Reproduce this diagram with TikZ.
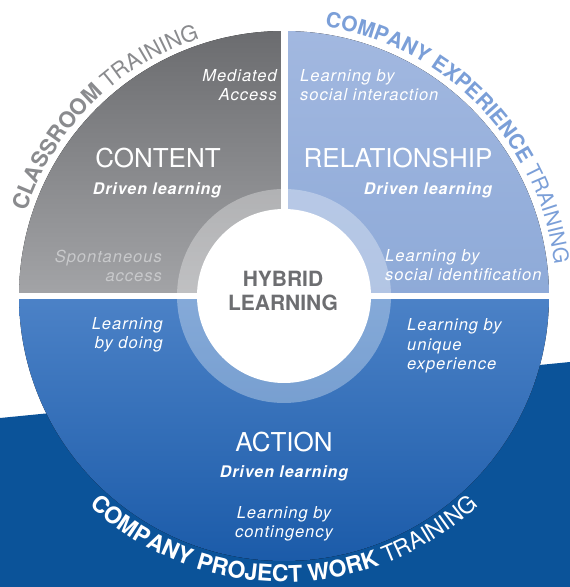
\documentclass[tikz,border=0pt]{standalone}
\usepackage{fontspec}
\setmainfont{TeX Gyre Heros}
\newfontfamily\labelfont{TeX Gyre Heros}[LetterSpace=6]
\usetikzlibrary{decorations.text}

\definecolor{bandblue}{HTML}{0B5399}
\definecolor{graytop}{HTML}{6B6C6F}
\definecolor{graybot}{HTML}{A3A4A7}
\definecolor{skytop}{HTML}{A2B8E0}
\definecolor{skybot}{HTML}{8EAAD8}
\definecolor{actiontop}{HTML}{4C82C7}
\definecolor{actionbot}{HTML}{1B5BA9}
\definecolor{clsgray}{HTML}{8A8B8E}
\definecolor{expblue}{HTML}{7B9FD8}
\definecolor{hybridgray}{HTML}{6D6E71}
\definecolor{softgray}{HTML}{C8C9CB}

\newcommand\rimsize{\fontsize{22}{22}\selectfont}

\tikzset{
  itlabel/.style={text=white, inner sep=0pt, font=\labelfont\fontsize{16.5}{19.5}\selectfont\itshape},
  drivenlabel/.style={text=white, inner sep=0pt, font=\labelfont\fontsize{16}{19}\selectfont\bfseries\itshape},
  biglabel/.style={text=white, inner sep=0pt, font=\fontsize{26}{26}\selectfont},
  gap/.style={white, line width=7pt}
}

\begin{document}
\begin{tikzpicture}[x=1pt,y=1pt]
\useasboundingbox (0,0) rectangle (570,587);
% dark band behind the wheel
\fill[bandblue] (0,169) -- (570,225) -- (570,0) -- (0,0) -- cycle;

\begin{scope}[shift={(284,291)}]
% the three sectors
\fill[top color=graytop, bottom color=graybot] (0,0) -- (180:265) arc[start angle=180, end angle=90, radius=265pt] -- cycle;
\fill[top color=skytop, bottom color=skybot] (0,0) -- (90:265) arc[start angle=90, end angle=0, radius=265pt] -- cycle;
\fill[top color=actiontop, bottom color=actionbot] (0,0) -- (0:265) arc[start angle=0, end angle=-180, radius=265pt] -- cycle;
% ring and hub
\fill[white, opacity=0.32] (0,0) circle (107pt);
\draw[gap] (0,0) -- (90:272);
\draw[gap, line width=6pt] (180:272) -- (0:272);
\fill[white] (0,0) circle (87pt);

% texts along the rim
\path[decorate, decoration={text along path, text align=center,
  text={|\rimsize\bfseries\color{clsgray}|CLASSROOM |\rimsize\mdseries\color{clsgray}|TRAINING}}]
  (178:271) arc[start angle=178, end angle=92, radius=271pt];
\path[decorate, decoration={text along path, text align=center,
  text={|\fontsize{21}{21}\selectfont\bfseries\color{expblue}|COMPANY EXPERIENCE |\fontsize{21}{21}\selectfont\mdseries\color{expblue}|TRAINING}}]
  (89:272) arc[start angle=89, end angle=-1, radius=272pt];
\path[decorate, decoration={text along path, text align=center,
  text={|\fontsize{23}{23}\selectfont\bfseries\color{white}|COMPANY PROJECT WORK |\fontsize{23}{23}\selectfont\mdseries\color{white}|TRAINING}}]
  (220:286) arc[start angle=220, end angle=320, radius=286pt];

% content sector
\node[itlabel, anchor=east, align=right] (mediated) at (-7,211) {Mediated\\Access};
\node[biglabel] (content) at (-126,138) {CONTENT};
\node[drivenlabel] (drivencontent) at (-127,106) {Driven learning};
\node[itlabel, text=softgray, anchor=east, align=right] (spontaneous) at (-122,30) {Spontaneous\\access};

% relationship sector
\node[itlabel, anchor=west, align=left] (interaction) at (16,211) {Learning by\\social interaction};
\node[biglabel] (relationship) at (114,138) {RELATIONSHIP};
\node[drivenlabel] (drivenrelation) at (144,106) {Driven learning};
\node[itlabel, anchor=west, align=left] (identification) at (101,31) {Learning by\\social identification};

% hub
\node[text=hybridgray, align=center, font=\fontsize{21}{24}\selectfont\bfseries] (hybrid) at (-1,5) {HYBRID\\LEARNING};

% action sector
\node[itlabel, anchor=east, align=right] (doing) at (-121,-39) {Learning\\by doing};
\node[itlabel, anchor=west, align=left] (unique) at (123,-50) {Learning by\\unique\\experience};
\node[biglabel] (action) at (0,-146) {ACTION};
\node[drivenlabel] (drivenaction) at (0,-177) {Driven learning};
\node[itlabel, align=center] (contingency) at (0,-228) {Learning by\\contingency};
\end{scope}
\end{tikzpicture}
\end{document}
